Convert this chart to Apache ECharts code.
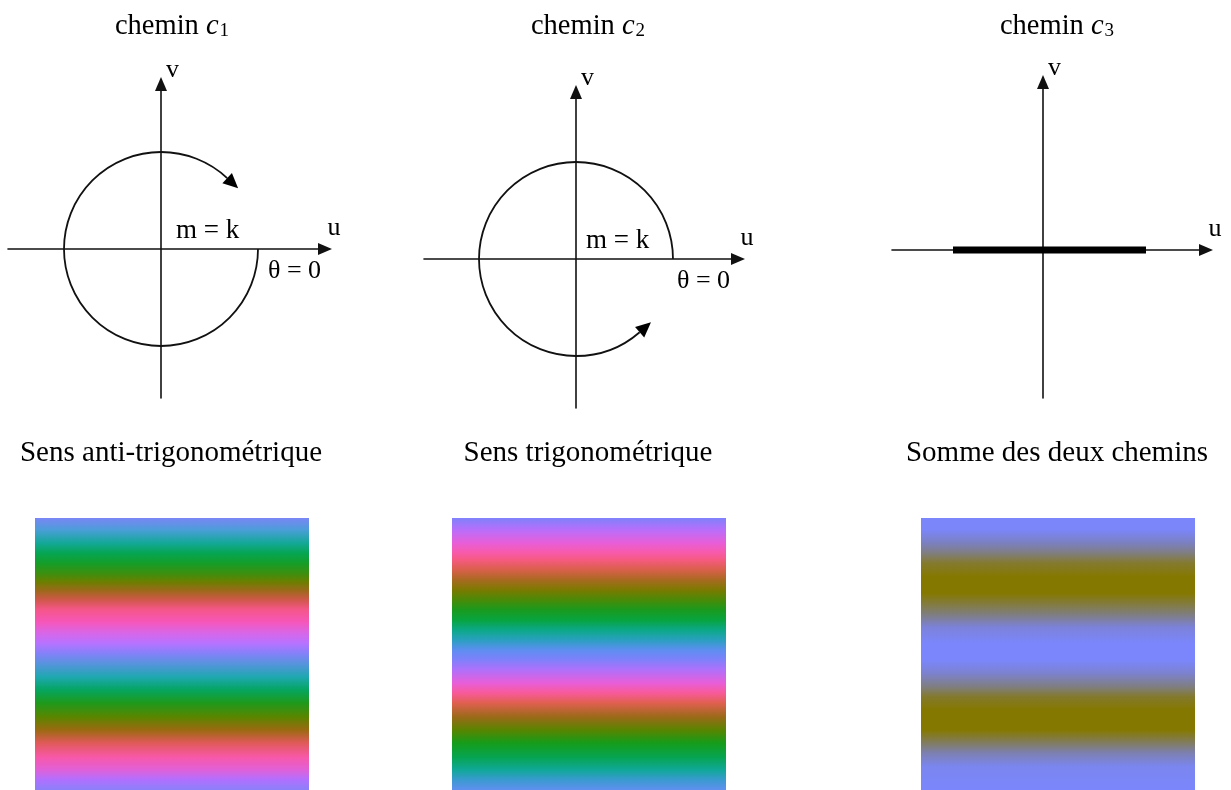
<!DOCTYPE html>
<html><head><meta charset="utf-8">
<script src="https://cdn.jsdelivr.net/npm/echarts@6/dist/echarts.min.js"></script>
<style>html,body{margin:0;padding:0;background:#fff}#c{width:1231px;height:790px}</style>
</head><body><div id="c"></div>
<script>
// ---- data ----
const titleWord = 'chemin';
const pathIndex = ['1', '2', '3'];
const subtitles = ['Sens anti-trigonométrique', 'Sens trigonométrique', 'Somme des deux chemins'];
const axisNames = ['u', 'v'];
const pointLabels = ['m = k', 'θ = 0'];
// arcs in the (u, v) plane: [cu, cv, radius, startDeg, endDeg] (math convention, + = counter-clockwise)
const arcC1 = [0, 0, 97, 0, -313];
const arcC2 = [0, 0, 97, 0, 311];
// path c3: segment lying on the u axis
const segC3 = [[-90, 0], [103, 0]];
// phase colour bands, [position from top 0..1, colour]
const stopsC1 = [[0,'#7b86f6'],[0.044,'#4a9ed8'],[0.092,'#13a898'],[0.129,'#05a554'],[0.165,'#149e2a'],[0.202,'#3a9010'],[0.235,'#6b7f00'],[0.265,'#9a6a18'],[0.301,'#d0584a'],[0.338,'#f5568a'],[0.382,'#f656b8'],[0.423,'#d866e8'],[0.46,'#b872ff'],[0.5,'#8282f8'],[0.533,'#5a92e0'],[0.585,'#1ea8b0'],[0.632,'#05a560'],[0.68,'#1e9a1c'],[0.732,'#5a8500'],[0.779,'#9a6a10'],[0.827,'#e05a58'],[0.879,'#f858a8'],[0.926,'#e060d8'],[0.963,'#b070ff'],[1,'#8a80f8']];
const stopsC2 = [[0,'#7f82fb'],[0.044,'#b86efa'],[0.092,'#e85ed8'],[0.129,'#f85aa8'],[0.154,'#f55a80'],[0.191,'#d8604a'],[0.228,'#a86a20'],[0.265,'#7a7a00'],[0.301,'#4a8a08'],[0.338,'#1a9a1e'],[0.375,'#08a440'],[0.412,'#0ca888'],[0.449,'#2aa0c0'],[0.485,'#5c8ef0'],[0.522,'#8080fb'],[0.559,'#b070fa'],[0.607,'#e85ed8'],[0.643,'#f85a9a'],[0.68,'#e06050'],[0.732,'#9a6a18'],[0.779,'#5a8400'],[0.827,'#169c1a'],[0.879,'#06a450'],[0.926,'#10a898'],[0.963,'#3a9ad0'],[1,'#6090f0']];
const stopsC3 = [[0,'#7b86fc'],[0.044,'#7b86f8'],[0.092,'#7b80c0'],[0.129,'#807e80'],[0.165,'#847a30'],[0.217,'#857800'],[0.276,'#857800'],[0.327,'#827c50'],[0.364,'#7e7e90'],[0.401,'#7c82d8'],[0.46,'#7b86fc'],[0.522,'#7b86fc'],[0.57,'#7c82d0'],[0.621,'#7f7e80'],[0.658,'#83792c'],[0.706,'#857800'],[0.779,'#857800'],[0.827,'#817c60'],[0.864,'#7c80b0'],[0.915,'#7b86f0'],[1,'#7b86fc']];
const squareCell = [[0, 0, 1, 1]];

// ---- chart ----
const FONT = '"Liberation Serif", "Times New Roman", serif';
const chart = echarts.init(document.getElementById('c'), null, {renderer: 'canvas'});

const diagGrids = [
  {left: 8, top: 84, width: 317, height: 314},
  {left: 424, top: 92, width: 314, height: 316},
  {left: 892, top: 82, width: 314, height: 316}
];
const uRanges = [[-153, 164], [-152, 162], [-151, 163]];
const vRanges = [[-149, 165], [-149, 167], [-148, 168]];
const squareGrids = [
  {left: 35, top: 518, width: 274, height: 272},
  {left: 452, top: 518, width: 274, height: 272},
  {left: 921, top: 518, width: 274, height: 272}
];

const lineCol = '#111';
function diagAxis(gi, range, isU) {
  return {
    type: 'value', gridIndex: gi, min: range[0], max: range[1],
    name: isU ? axisNames[0] : axisNames[1], nameLocation: 'end',
    nameGap: isU ? 9 : 1,
    nameTextStyle: isU
      ? {fontFamily: FONT, fontSize: 26, color: '#000', align: 'center', verticalAlign: 'bottom', padding: [0, 0, 8, 0]}
      : {fontFamily: FONT, fontSize: 26, color: '#000', align: 'left', verticalAlign: 'bottom', padding: [0, 0, 0, 5]},
    axisLine: {show: true, onZero: true, symbol: ['none', 'triangle'], symbolSize: [12, 14],
      lineStyle: {color: lineCol, width: 1.6}},
    axisTick: {show: false}, axisLabel: {show: false}, splitLine: {show: false}
  };
}
function hiddenAxis(gi) {
  return {type: 'value', gridIndex: gi, min: 0, max: 1, show: false, splitLine: {show: false}};
}

function arcRender(params, api) {
  const c = api.coord([api.value(0), api.value(1)]);
  const r = api.size([api.value(2), 0])[0];
  const a0 = api.value(3) * Math.PI / 180, a1 = api.value(4) * Math.PI / 180;
  const cw = a1 < a0;
  const ex = c[0] + r * Math.cos(a1), ey = c[1] - r * Math.sin(a1);
  let tx, ty;
  if (cw) { tx = Math.sin(a1); ty = Math.cos(a1); } else { tx = -Math.sin(a1); ty = -Math.cos(a1); }
  const L = 15, W = 7;
  const nx = -ty, ny = tx;
  return {type: 'group', children: [
    {type: 'arc', shape: {cx: c[0], cy: c[1], r: r, startAngle: -a0, endAngle: -a1, clockwise: cw},
      style: {stroke: lineCol, lineWidth: 1.8, fill: 'none'}},
    {type: 'polygon', shape: {points: [[ex + tx * L, ey + ty * L], [ex + nx * W, ey + ny * W], [ex - nx * W, ey - ny * W]]},
      style: {fill: '#000'}}
  ]};
}
function squareRender(stops) {
  return function (params, api) {
    const p0 = api.coord([api.value(0), api.value(3)]);
    const p1 = api.coord([api.value(2), api.value(1)]);
    return {type: 'rect', shape: {x: p0[0], y: p0[1], width: p1[0] - p0[0], height: p1[1] - p0[1]},
      style: {fill: new echarts.graphic.LinearGradient(0, 0, 0, 1, stops.map(s => ({offset: s[0], color: s[1]})))}};
  };
}

const titleCenters = [172, 588, 1057];
const subCenters = [171, 588, 1057];
const graphic = [];
for (let i = 0; i < 3; i++) {
  graphic.push({type: 'text', x: titleCenters[i], y: 24, style: {
    text: '{a|' + titleWord + ' }{c|c}{s|' + pathIndex[i] + '}',
    align: 'center', verticalAlign: 'middle',
    rich: {
      a: {fontFamily: FONT, fontSize: 28.5, lineHeight: 34, verticalAlign: 'bottom', fill: '#000'},
      c: {fontFamily: FONT, fontSize: 28.5, fontStyle: 'italic', lineHeight: 34, verticalAlign: 'bottom', fill: '#000', padding: [0, 1, 0, 0]},
      s: {fontFamily: FONT, fontSize: 19, lineHeight: 22, verticalAlign: 'bottom', fill: '#000'}
    }}});
  graphic.push({type: 'text', x: subCenters[i], y: 453, style: {
    text: subtitles[i], font: '29px ' + FONT, fill: '#000', align: 'center', verticalAlign: 'middle'}});
}
const lblPos = [[176, 231, 268, 271], [586, 241, 677, 281]];
lblPos.forEach(p => {
  graphic.push({type: 'text', x: p[0], y: p[1], style: {text: pointLabels[0], font: '27px ' + FONT, fill: '#000', align: 'left', verticalAlign: 'middle'}});
  graphic.push({type: 'text', x: p[2], y: p[3], style: {text: pointLabels[1], font: '26px ' + FONT, fill: '#000', align: 'left', verticalAlign: 'middle'}});
});

const option = {
  animation: false,
  backgroundColor: '#fff',
  grid: diagGrids.concat(squareGrids).map(g => Object.assign({containLabel: false}, g)),
  xAxis: [0, 1, 2].map(i => diagAxis(i, uRanges[i], true)).concat([3, 4, 5].map(hiddenAxis)),
  yAxis: [0, 1, 2].map(i => diagAxis(i, vRanges[i], false)).concat([3, 4, 5].map(hiddenAxis)),
  series: [
    {type: 'custom', xAxisIndex: 0, yAxisIndex: 0, data: [arcC1], renderItem: arcRender, z: 3},
    {type: 'custom', xAxisIndex: 1, yAxisIndex: 1, data: [arcC2], renderItem: arcRender, z: 3},
    {type: 'line', xAxisIndex: 2, yAxisIndex: 2, data: segC3, symbol: 'none', z: 3,
      lineStyle: {color: '#000', width: 7, cap: 'butt'}},
    {type: 'custom', xAxisIndex: 3, yAxisIndex: 3, data: squareCell, renderItem: squareRender(stopsC1)},
    {type: 'custom', xAxisIndex: 4, yAxisIndex: 4, data: squareCell, renderItem: squareRender(stopsC2)},
    {type: 'custom', xAxisIndex: 5, yAxisIndex: 5, data: squareCell, renderItem: squareRender(stopsC3)}
  ],
  graphic: graphic
};
chart.setOption(option);
</script></body></html>
